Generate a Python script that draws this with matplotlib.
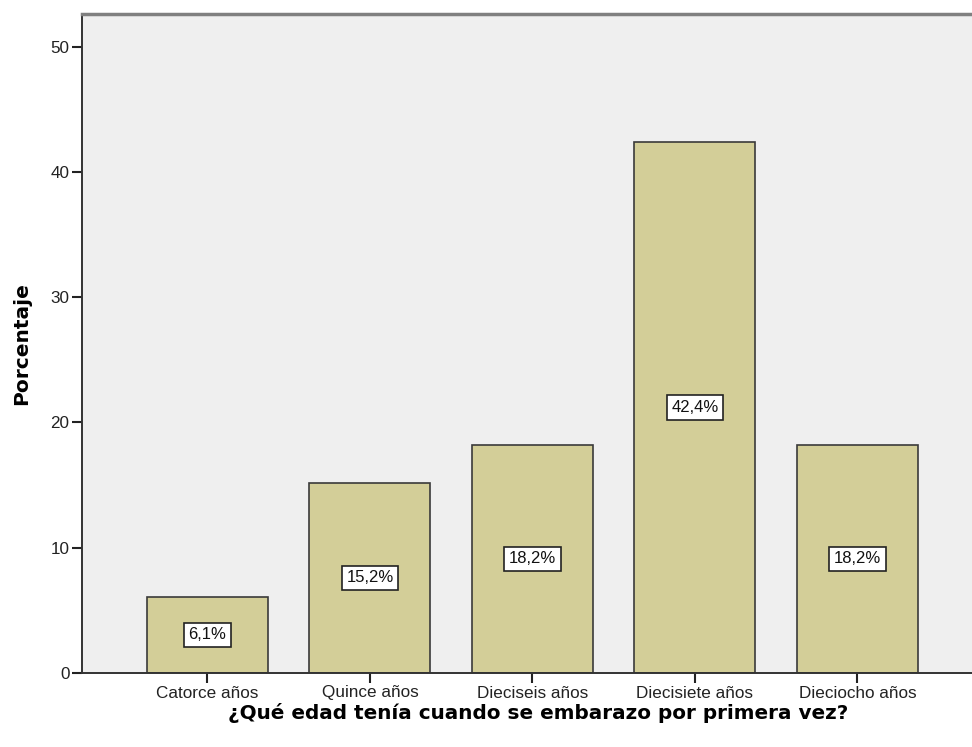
import matplotlib
matplotlib.use("Agg")
import matplotlib.pyplot as plt

categories = ["Catorce años", "Quince años", "Dieciseis años", "Diecisiete años", "Dieciocho años"]
percentages = [6.1, 15.2, 18.2, 42.4, 18.2]
y_ticks = [0, 10, 20, 30, 40, 50]

plt.rcParams["font.family"] = ["Liberation Sans", "DejaVu Sans"]

fig = plt.figure(figsize=(9.72, 7.47), dpi=100)
ax = fig.add_axes([82 / 972, 1 - 673 / 747, 1 - 82 / 972, (673 - 14) / 747])
ax.set_facecolor("#efefef")

x = list(range(len(categories)))
ax.bar(x, percentages, width=0.745, color="#d3ce98", edgecolor="#3a3a3a", linewidth=1.2, zorder=2)

for xi, v in zip(x, percentages):
    ax.text(xi, v / 2, f"{v:.1f}%".replace(".", ","), ha="center", va="center",
            fontsize=12, color="#111111", zorder=3,
            bbox=dict(boxstyle="square,pad=0.28", facecolor="white", edgecolor="#222222", linewidth=1.2))

ax.set_xlim(-0.772, 4.705)
ax.set_ylim(0, 52.6)
ax.set_yticks(y_ticks)
ax.set_yticklabels([str(t) for t in y_ticks])
ax.set_xticks(x)
ax.set_xticklabels(categories)
ax.tick_params(axis="both", labelsize=12.3, colors="#222222", length=7, width=1.5, pad=2)

for side in ("left", "bottom"):
    ax.spines[side].set_color("#333333")
    ax.spines[side].set_linewidth(1.4)
ax.spines["top"].set_color("#808080")
ax.spines["top"].set_linewidth(2.5)
ax.spines["right"].set_visible(False)

ax.set_ylabel("Porcentaje", fontsize=14.5, fontweight="bold", family="DejaVu Sans", labelpad=14)
ax.set_xlabel("¿Qué edad tenía cuando se embarazo por primera vez?", fontsize=14.4,
              fontweight="bold", family="DejaVu Sans", labelpad=2, x=0.513, ha="center")

fig.savefig("out.png", dpi=100)
